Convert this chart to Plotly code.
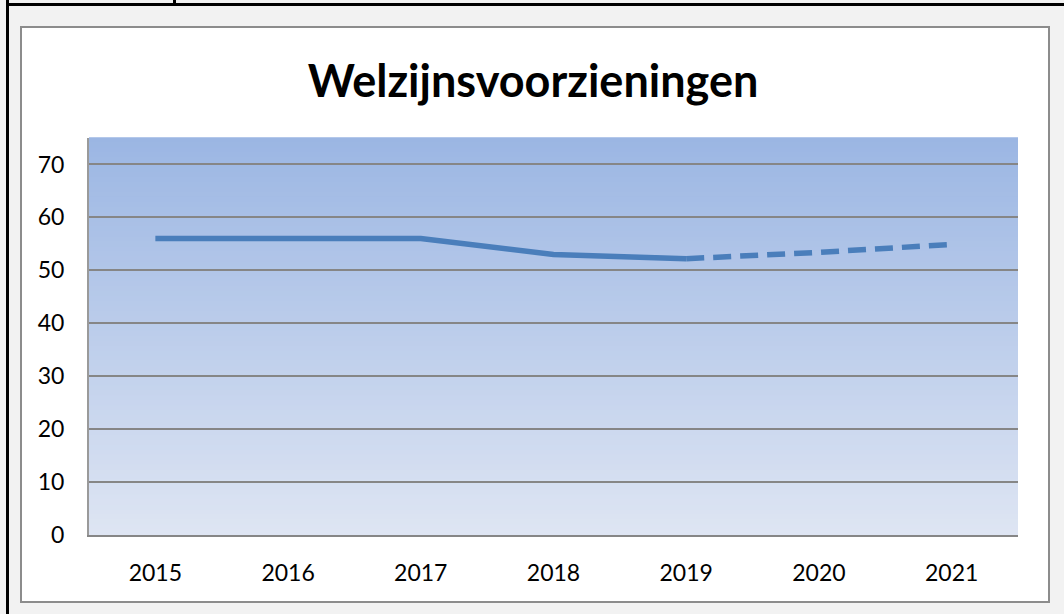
import plotly.graph_objects as go

years = ["2015", "2016", "2017", "2018", "2019", "2020", "2021"]
actual_values = [56, 56, 56, 53, 52.2, None, None]
forecast_values = [None, None, None, None, 52.2, 53.4, 54.9]
y_ticks = [0, 10, 20, 30, 40, 50, 60, 70]

W, H = 1064, 614
L, R, T, B = 89, 1018, 138, 535  # plot area in px


def px(x):
    return (x - L) / (R - L)


def py(y):
    return (B - y) / (B - T)


xi = list(range(len(years)))
fig = go.Figure()
fig.add_trace(go.Scatter(x=xi, y=actual_values, mode="lines",
                         line=dict(color="#4a7ebb", width=5.5), connectgaps=False,
                         hoverinfo="skip"))
fig.add_trace(go.Scatter(x=xi, y=forecast_values, mode="lines",
                         line=dict(color="#4a7ebb", width=5.5, dash="18px,9px"),
                         hoverinfo="skip"))

shapes = []
# chart box (white with gray border)
shapes.append(dict(type="rect", xref="paper", yref="paper", layer="below",
                   x0=px(21), x1=px(1049), y0=py(602), y1=py(27),
                   fillcolor="white", line=dict(color="#8c8c8c", width=2)))
# gradient stripes for the plot area
top = (155, 182, 227)
bot = (222, 229, 243)
n = 80
for i in range(n):
    t = (i + 0.5) / n
    c = tuple(round(top[k] * (1 - t) + bot[k] * t) for k in range(3))
    shapes.append(dict(type="rect", xref="paper", yref="paper", layer="below",
                       x0=0, x1=1, y0=1 - (i + 1) / n, y1=1 - i / n + 0.002,
                       fillcolor="rgb(%d,%d,%d)" % c, line=dict(width=0)))
# outer black frame lines (top and left)
shapes.append(dict(type="line", xref="paper", yref="paper",
                   x0=px(6), x1=px(1064), y0=py(4.5), y1=py(4.5),
                   line=dict(color="black", width=3)))
shapes.append(dict(type="line", xref="paper", yref="paper",
                   x0=px(7.5), x1=px(7.5), y0=py(0), y1=py(614),
                   line=dict(color="black", width=3)))
shapes.append(dict(type="line", xref="paper", yref="paper",
                   x0=px(174.5), x1=px(174.5), y0=py(0), y1=py(6),
                   line=dict(color="black", width=3)))

fig.update_layout(
    width=W, height=H,
    margin=dict(l=L, r=W - R, t=T, b=H - B, pad=0),
    paper_bgcolor="#f2f2f2",
    plot_bgcolor="rgba(0,0,0,0)",
    showlegend=False,
    shapes=shapes,
    title=dict(text="<b>Welzijnsvoorzieningen</b>", x=533 / W, xref="container",
               xanchor="center", y=1 - 81 / H, yref="container", yanchor="middle",
               font=dict(family="Lato", size=45, color="black")),
    font=dict(family="Lato", size=23, color="black"),
)
fig.update_xaxes(
    range=[-0.5, 6.5], tickvals=xi, ticktext=years, showgrid=False,
    zeroline=False, showline=True, linecolor="#868686", linewidth=2,
    ticks="", ticklabelstandoff=16, fixedrange=True,
)
fig.update_yaxes(
    range=[0, 75], tickvals=y_ticks, showgrid=True, gridcolor="#868686",
    gridwidth=2, zeroline=False, showline=True, linecolor="#9a9a9a",
    linewidth=2, ticks="", ticklabelstandoff=18, fixedrange=True,
)

fig.write_html(
    "out.html",
    config={"displayModeBar": False},
    post_script="document.body.style.margin='0';document.body.style.overflow='hidden';",
)
